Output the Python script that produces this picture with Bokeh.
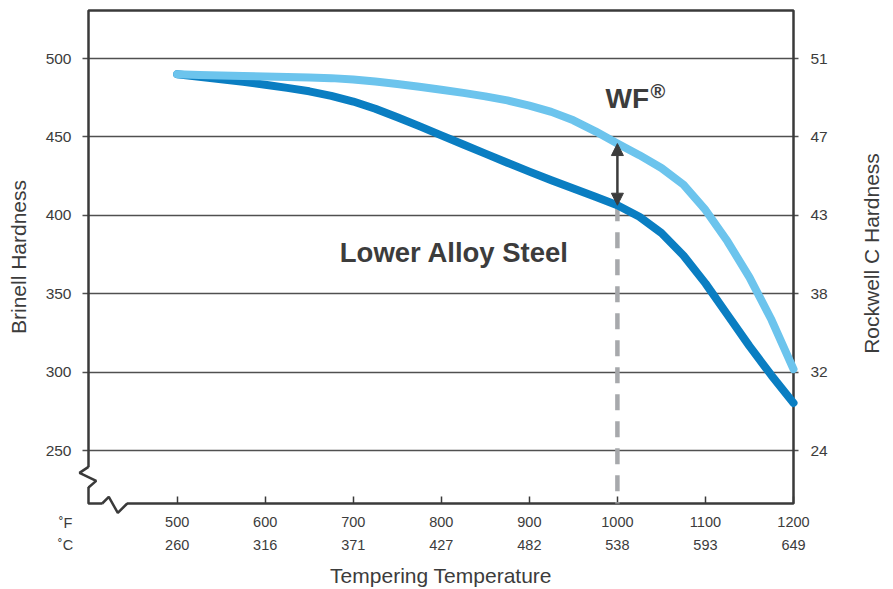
import math
from bokeh.plotting import figure
from bokeh.models import (FixedTicker, LinearAxis, Label, Arrow, NormalHead,
                          BoxAnnotation, PolyAnnotation, Range1d)
from bokeh.embed import file_html
from bokeh.resources import INLINE

# ---------------- data ----------------
temp_f = [500, 525, 550, 575, 600, 625, 650, 675, 700, 725, 750, 775, 800,
          825, 850, 875, 900, 925, 950, 975, 1000, 1025, 1050, 1075, 1100,
          1125, 1150, 1175, 1200]
lower_alloy = [490, 488.4, 486.8, 485.1, 483.3, 481.3, 479.1, 476.2, 472.6,
               468.0, 462.6, 456.9, 451.0, 445.2, 439.4, 433.6, 427.9, 422.4,
               417.1, 411.9, 406.5, 399.2, 388.8, 374.5, 356.7, 336.7, 316.7,
               298.0, 280.5]
wf = [490, 489.5, 489.1, 488.8, 488.5, 488.2, 487.9, 487.5, 486.6, 485.3,
      483.8, 482.0, 480.1, 478.1, 475.9, 473.3, 470.0, 466.0, 460.6, 453.6,
      445.8, 438.4, 430.2, 419.6, 403.5, 383.5, 360.5, 333.5, 302.0]

f_ticks = [500, 600, 700, 800, 900, 1000, 1100, 1200]
c_labels = ["260", "316", "371", "427", "482", "538", "593", "649"]
brinell_ticks = [250, 300, 350, 400, 450, 500]
rockwell_labels = ["24", "32", "38", "43", "47", "51"]
marker_temp = 1000

# ---------------- styling / geometry ----------------
FONT = "Liberation Sans"
TXT = "#3c3c3c"
AXC = "#3a3a3a"
GRID = "#505050"
DARK = "#0a7ec2"
LIGHT = "#6cc4ed"

W, H = 893, 589
BOX_L, BOX_T, BOX_R, BOX_B = 88, 10, 793, 503      # plot box on the canvas (px)
X0, X1 = 399.3, 1200.0                               # data at box edges
Y0, Y1 = 216.4, 530.6
xpp = (X1 - X0) / (BOX_R - BOX_L)
ypp = (Y1 - Y0) / (BOX_B - BOX_T)
XS, XE = X0 - BOX_L * xpp, X1 + (W - BOX_R) * xpp
YS, YE = Y0 - (H - BOX_B) * ypp, Y1 + BOX_T * ypp


def dx(px):
    return X0 + px * xpp


def dy(py):
    return Y0 + py * ypp


p = figure(width=W, height=H, x_range=Range1d(XS, XE), y_range=Range1d(YS, YE),
           output_backend="svg", toolbar_location=None, title=None,
           min_border_left=0, min_border_right=0, min_border_top=0,
           min_border_bottom=0, background_fill_color="white",
           border_fill_color="white", outline_line_color=None)
p.xgrid.visible = False
p.ygrid.visible = False

# frame box (under the curves)
p.add_layout(BoxAnnotation(left=X0, right=X1, bottom=Y0, top=Y1, fill_alpha=0,
                           line_color=AXC, line_alpha=1, line_width=2.5,
                           level="underlay"))

# x axis (Fahrenheit)
xa = p.xaxis[0]
xa.fixed_location = Y0
xa.bounds = (X0, X1)
xa.level = "underlay"
xa.ticker = FixedTicker(ticks=f_ticks)
xa.major_tick_in = 7
xa.major_tick_out = 0
xa.minor_tick_line_color = None
xa.major_tick_line_color = AXC
xa.major_tick_line_width = 1.5
xa.axis_line_color = None
xa.major_label_standoff = 13
xa.major_label_text_font = FONT
xa.major_label_text_font_size = "14.5px"
xa.major_label_text_color = TXT

# x axis (Celsius row + title)
ca = LinearAxis(fixed_location=Y0, bounds=(X0, X1), level="underlay",
                ticker=FixedTicker(ticks=f_ticks),
                major_label_overrides=dict(zip(f_ticks, c_labels)))
ca.major_tick_in = 0
ca.major_tick_out = 0
ca.major_tick_line_color = None
ca.minor_tick_line_color = None
ca.axis_line_color = None
ca.major_label_standoff = 36
ca.major_label_text_font = FONT
ca.major_label_text_font_size = "14.5px"
ca.major_label_text_color = TXT
ca.axis_label = "Tempering Temperature"
ca.axis_label_text_font = FONT
ca.axis_label_text_font_size = "21px"
ca.axis_label_text_font_style = "normal"
ca.axis_label_text_color = TXT
ca.axis_label_standoff = 11
p.add_layout(ca, "below")

# left axis (Brinell) - its long inward ticks are the grid lines
ya = p.yaxis[0]
ya.fixed_location = X0
ya.bounds = (Y0, Y1)
ya.level = "underlay"
ya.ticker = FixedTicker(ticks=brinell_ticks)
ya.major_tick_in = BOX_R - BOX_L
ya.major_tick_out = 6
ya.minor_tick_line_color = None
ya.major_tick_line_color = GRID
ya.major_tick_line_width = 1.5
ya.axis_line_color = None
ya.major_label_standoff = 11
ya.major_label_text_font = FONT
ya.major_label_text_font_size = "15.5px"
ya.major_label_text_color = TXT
ya.axis_label = "Brinell Hardness"
ya.axis_label_text_font = FONT
ya.axis_label_text_font_size = "21px"
ya.axis_label_text_font_style = "normal"
ya.axis_label_text_color = TXT
ya.axis_label_standoff = 13

# right axis (Rockwell C)
ra = LinearAxis(fixed_location=X1, bounds=(Y0, Y1), level="underlay",
                ticker=FixedTicker(ticks=brinell_ticks),
                major_label_overrides=dict(zip(brinell_ticks, rockwell_labels)))
ra.major_tick_in = 0
ra.major_tick_out = 5
ra.minor_tick_line_color = None
ra.major_tick_line_color = GRID
ra.major_tick_line_width = 1.5
ra.axis_line_color = None
ra.major_label_standoff = 12
ra.major_label_text_font = FONT
ra.major_label_text_font_size = "15.5px"
ra.major_label_text_color = TXT
p.add_layout(ra, "right")
p.add_layout(Label(x=dx(783), y=dy(250), text="Rockwell C Hardness",
                   angle=math.pi / 2, text_font=FONT, text_font_size="21px",
                   text_color=TXT, text_align="center", text_baseline="middle"))

# axis breaks
p.add_layout(BoxAnnotation(left=dx(-3), right=dx(3), bottom=dy(16.5), top=dy(36.3),
                           fill_color="white", fill_alpha=1, line_color=None,
                           level="underlay"))
p.add_layout(BoxAnnotation(left=dx(14), right=dx(38.4), bottom=dy(-3), top=dy(3),
                           fill_color="white", fill_alpha=1, line_color=None,
                           level="underlay"))
lx = [0, -9, 7.7, 0, 7.7, -9]
ly = [36.6, 30.6, 22.6, 16, 22.6, 30.6]
p.add_layout(PolyAnnotation(xs=[dx(v) for v in lx], ys=[dy(v) for v in ly],
                            fill_alpha=0, line_color=AXC, line_alpha=1,
                            line_width=2.5, level="underlay"))
bx = [13.7, 20.3, 29.3, 38.7, 29.3, 20.3]
by = [0, 6.6, -9.4, 0, -9.4, 6.6]
p.add_layout(PolyAnnotation(xs=[dx(v) for v in bx], ys=[dy(v) for v in by],
                            fill_alpha=0, line_color=AXC, line_alpha=1,
                            line_width=2.5, level="underlay"))

# dashed marker
i_m = temp_f.index(marker_temp)
p.segment(x0=[marker_temp], y0=[lower_alloy[i_m]], x1=[marker_temp], y1=[Y0],
          line_color="#a7a9ac", line_width=4.5, line_dash="16 11")

# curves
p.line(temp_f, lower_alloy, line_color=DARK, line_width=8,
       line_cap="round", line_join="round")
p.line(temp_f, wf, line_color=LIGHT, line_width=8,
       line_cap="round", line_join="round")

# double arrow
p.add_layout(Arrow(x_start=marker_temp, y_start=wf[i_m], x_end=marker_temp,
                   y_end=lower_alloy[i_m],
                   start=NormalHead(size=12, fill_color=TXT, line_color=TXT, line_width=1),
                   end=NormalHead(size=12, fill_color=TXT, line_color=TXT, line_width=1),
                   line_color=TXT, line_width=2.5))

# in-plot text
p.add_layout(Label(x=dx(517), y=dy(405), text="WF", text_font=FONT,
                   text_font_size="28px", text_font_style="bold",
                   text_color=TXT, text_baseline="alphabetic", text_align="left"))
p.add_layout(Label(x=dx(562), y=dy(424), text="®", text_font=FONT,
                   text_font_size="20px", text_font_style="bold",
                   text_color=TXT, text_baseline="top", text_align="left"))
p.add_layout(Label(x=dx(251.3), y=dy(251.5), text="Lower Alloy Steel",
                   text_font=FONT, text_font_size="27.5px", text_font_style="bold",
                   text_color=TXT, text_baseline="alphabetic", text_align="left"))

# unit labels for the two x rows
p.add_layout(Label(x=dx(-23), y=dy(-19), text="˚F", text_font=FONT,
                   text_font_size="14.5px", text_color=TXT,
                   text_align="center", text_baseline="middle"))
p.add_layout(Label(x=dx(-23), y=dy(-41.5), text="˚C", text_font=FONT,
                   text_font_size="14.5px", text_color=TXT,
                   text_align="center", text_baseline="middle"))

open("out.html", "w").write(file_html(p, INLINE))
